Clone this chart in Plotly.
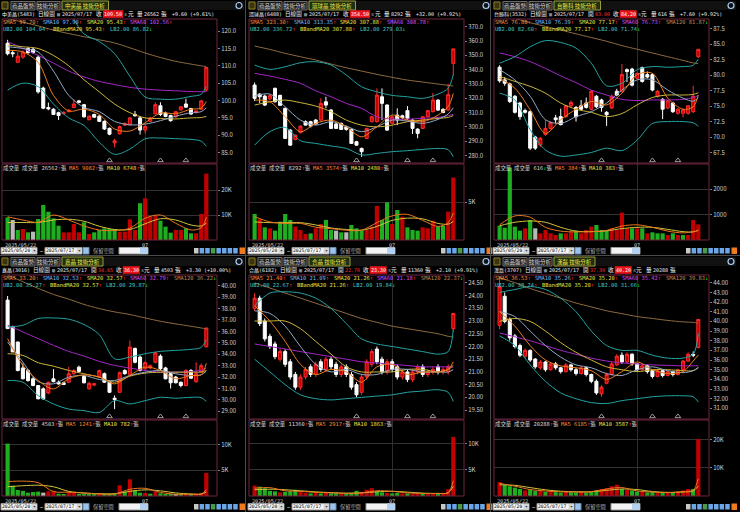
import plotly.graph_objects as go

W, H = 740, 512
FONT = "Noto Sans CJK TC, Noto Sans, DejaVu Sans, sans-serif"
MONO = "DejaVu Sans Mono, Noto Sans CJK TC, monospace"

# ---------------- shared data ----------------
DATES = (["2025/05/%02d" % d for d in (22, 23, 26, 27, 28, 29)]
         + ["2025/06/%02d" % d for d in (2, 3, 4, 5, 6, 9, 10, 11, 12, 13, 16, 17, 18, 19, 20,
                                         23, 24, 25, 26, 27, 30)]
         + ["2025/07/%02d" % d for d in (1, 2, 3, 4, 7, 8, 9, 10, 11, 14, 15, 16, 17)])
KEY = [0, 3, 6, 9, 12, 15, 18, 21, 24, 27, 30, 33, 36, 38, 39]   # days where the average lines were read
MARKS = [20, 30, 35]                                            # small event triangles
JULY = 27
SHOW_DATE = "2025/07/17"
RANGE_FROM, RANGE_TO = "2025/05/20", "2025/07/17"

# ---------------- panel 1 : 中美晶 ----------------
P1_NAME, P1_TAB = "中美晶(5483)", "中美晶"
P1_OPEN_TXT, P1_CLOSE_TXT, P1_VOL_TXT, P1_CHG_TXT = None, "109.50", "26562", "+9.60 (+9.61%)"
P1_SMA_LEG = ["99.70", "97.90", "95.43", "102.56"]
P1_BB_LEG = ["104.04", "95.43", "86.82"]
P1_VOL_LEG = ["26562", "9082", "6748"]
P1_VOL_DIR = "UUU"
P1_PREV = 117.0
P1_OHLC = [(116.5, 117.5, 113.0, 113.5), (113.8, 114.5, 112.5, 113.5), (111.0, 114.0, 110.8, 112.8),
           (112.5, 114.5, 112.0, 114.0), (115.0, 115.4, 113.5, 113.8), (114.8, 115.2, 113.5, 113.8),
           (112.5, 113.0, 102.0, 102.5), (103.6, 104.0, 97.5, 97.8), (98.0, 99.4, 97.2, 97.6),
           (97.5, 97.8, 95.8, 96.0), (96.5, 96.8, 94.4, 95.7), (96.2, 96.9, 96.0, 96.6),
           (96.8, 97.6, 96.6, 97.2), (98.0, 100.4, 97.8, 99.0), (99.9, 100.2, 99.2, 99.5),
           (98.8, 99.0, 95.1, 95.3), (94.5, 95.7, 94.2, 95.5), (96.0, 96.2, 95.0, 95.2),
           (95.5, 95.8, 93.8, 94.0), (94.0, 94.3, 91.5, 91.8), (92.0, 92.2, 90.0, 90.3),
           (87.8, 89.0, 86.5, 88.4), (90.4, 92.8, 90.2, 92.5), (92.9, 93.7, 92.7, 93.4),
           (93.0, 95.3, 92.8, 95.0), (96.0, 97.0, 95.4, 95.6), (95.0, 95.5, 90.2, 91.5),
           (91.5, 93.0, 90.5, 92.5), (94.0, 95.3, 93.8, 95.0), (96.2, 99.5, 96.0, 98.8),
           (98.5, 99.5, 95.5, 96.0), (96.4, 96.8, 95.2, 95.4), (95.7, 95.9, 93.9, 94.2),
           (95.3, 97.0, 95.0, 96.8), (97.3, 98.4, 97.1, 98.2), (99.0, 100.5, 97.9, 98.1),
           (97.7, 97.9, 95.9, 96.1), (96.5, 97.2, 96.3, 97.0), (97.5, 100.2, 97.3, 99.9),
           (103.0, 109.5, 102.6, 109.5)]
P1_VOL = [9070, 8000, 4000, 4400, 3070, 3330, 8400, 14000, 11300, 8670, 5730, 3070, 3070, 6400,
          3070, 7070, 2400, 3070, 4000, 4670, 4400, 4400, 3330, 3330, 8270, 4000, 14700, 16700,
          9330, 9730, 7730, 5330, 2930, 4000, 4000, 4670, 2670, 2670, 10400, 26562]
P1_SMA5 = [114.5, 114, 111, 101.5, 97, 97.5, 96, 91.8, 91.2, 93.6, 96.4, 96.2, 97.5, 97.8, 99.7]
P1_SMA10 = [115.5, 115, 114, 108.5, 101.5, 98, 96.8, 94, 93, 93.2, 94.2, 95.5, 96.5, 96.8, 97.9]
P1_SMA20 = [116, 115.5, 115, 113, 110, 106, 102.5, 99, 96.5, 95, 94.8, 94.7, 95, 95.1, 95.43]
P1_SMA60 = [117, 115, 113, 110.8, 108.5, 106.8, 105.5, 104.6, 103.8, 103.3, 103.0, 102.8, 102.6, 102.55, 102.56]
P1_SMA120 = [123.6, 122.6, 121.5, 120.3, 119.3, 118.4, 117.5, 116.6, 115.2, 113.7, 112.4, 111.3, 110.5, 110.0, 109.8]
P1_UB = [128, 127, 126, 126, 125, 119.2, 117, 113.5, 107, 101, 100.4, 100.4, 101.2, 101.8, 104.04]
P1_LB = [103, 105, 104, 99, 95, 92.8, 88, 84.5, 86, 89, 89.2, 89, 88.8, 88.3, 86.82]
P1_VMA5 = [9300, 8000, 7100, 10000, 8000, 5600, 4000, 3800, 4700, 8700, 10000, 6700, 4000, 4900, 9082]
P1_VMA10 = [7000, 7000, 7000, 8000, 8300, 7500, 5500, 4200, 4200, 6500, 8500, 8000, 6000, 5600, 6748]
P1_YRANGE = [82.0, 123.5]
P1_TICKS = ["85.0", "90.0", "95.0", "100.0", "105.0", "110.0", "115.0", "120.0"]
P1_VRANGE = [0, 30400]
P1_VTICKS = [10000, 20000]
P1_VTICK_TXT = ["10K", "20K"]

# ---------------- panel 2 : 環球晶 ----------------
P2_NAME, P2_TAB = "環球晶(6488)", "環球晶"
P2_OPEN_TXT, P2_CLOSE_TXT, P2_VOL_TXT, P2_CHG_TXT = None, "354.50", "8292", "+32.00 (+9.92%)"
P2_SMA_LEG = ["323.30", "313.35", "307.88", "308.78"]
P2_BB_LEG = ["336.72", "307.88", "279.03"]
P2_VOL_LEG = ["8292", "3574", "2480"]
P2_VOL_DIR = "UUU"
P2_PREV = 325.0
P2_OHLC = [(329.2, 331.0, 318.0, 319.9), (322.9, 323.5, 316.6, 321.0), (321.5, 322.5, 314.5, 315.2),
           (319.5, 322.5, 318.5, 321.8), (326.9, 327.5, 317.0, 317.5), (322.0, 322.5, 314.8, 315.0),
           (312.9, 313.5, 291.5, 291.9), (297.7, 298.5, 286.8, 287.2), (291.2, 294.6, 290.5, 294.2),
           (295.9, 300.9, 295.5, 300.5), (303.6, 304.5, 301.0, 301.2), (303.6, 304.2, 299.5, 300.5),
           (304.7, 305.5, 301.5, 302.0), (304.7, 320.0, 304.2, 316.4), (317.5, 321.0, 313.0, 315.2),
           (311.7, 312.5, 298.5, 298.9), (302.0, 302.8, 298.5, 298.9), (302.4, 303.0, 297.8, 298.2),
           (300.0, 300.8, 297.2, 298.2), (298.2, 298.8, 288.0, 288.4), (289.6, 290.2, 286.8, 287.2),
           (284.9, 285.5, 279.0, 282.6), (291.9, 299.3, 291.5, 298.9), (303.6, 307.5, 303.0, 307.0),
           (303.6, 326.9, 303.0, 322.2), (321.0, 326.9, 304.7, 316.4), (315.2, 315.8, 297.2, 297.7),
           (302.4, 307.5, 302.0, 307.0), (308.2, 312.9, 301.2, 304.7), (307.7, 308.5, 305.2, 306.5),
           (311.3, 314.5, 304.7, 306.0), (304.7, 305.3, 295.0, 298.9), (298.4, 299.0, 292.0, 295.4),
           (298.9, 307.5, 298.4, 307.0), (307.0, 311.8, 306.5, 311.3), (310.6, 323.8, 310.0, 318.7),
           (318.7, 319.3, 311.2, 311.7), (312.2, 313.0, 309.5, 310.0), (311.7, 330.0, 311.2, 322.5),
           (344.4, 354.5, 336.0, 354.5)]
P2_VOL = [3450, 2790, 1680, 1550, 1240, 2430, 3450, 2650, 1770, 1330, 800, 880, 1550, 2120, 2650,
          1330, 1240, 1020, 1020, 1990, 1550, 1240, 1330, 1770, 4510, 2650, 5000, 2120, 3980, 3090,
          1680, 1330, 1240, 1680, 1550, 2560, 1770, 1900, 3760, 8292]
P2_SMA5 = [318.7, 317.5, 307, 296.6, 302.4, 304.7, 300, 293, 300, 308.2, 304.7, 303.6, 308.2, 314.2, 323.3]
P2_SMA10 = [321.5, 322.9, 314, 304.7, 301.2, 303.6, 300.5, 296.6, 300, 304.7, 304, 302.4, 305.2, 309, 313.35]
P2_SMA20 = [315.2, 317.5, 318.7, 316.9, 314.5, 310.6, 304.7, 301.2, 300, 301.2, 303.6, 304.7, 305.9, 306.6, 307.88]
P2_SMA60 = [337.4, 335.5, 333.2, 330.4, 325.2, 321, 316.4, 312.9, 307, 305.4, 305.4, 305.9, 306.6, 307.8, 308.78]
P2_SMA120 = [356.5, 354.1, 351.4, 349, 346.7, 343.9, 341.3, 339, 336.7, 334.6, 332.7, 331.3, 329.9, 329, 328.5]
P2_UB = [343.2, 340.2, 342, 344.8, 345.5, 343.2, 336.2, 328, 324.5, 322, 321, 319.9, 322.9, 327, 336.72]
P2_LB = [287.2, 296.6, 299.6, 290.3, 288.4, 286.6, 284.9, 280.3, 281.4, 282.6, 283.3, 284.2, 284.9, 284, 279.03]
P2_VMA5 = [3100, 2400, 2200, 2200, 1700, 1500, 1300, 1300, 2300, 3200, 3400, 2600, 1800, 2300, 3574]
P2_VMA10 = [2400, 2300, 2300, 2300, 2000, 1600, 1400, 1300, 1800, 2600, 2900, 2800, 2200, 2100, 2480]
P2_YRANGE = [274.7, 375.4]
P2_TICKS = ["280.0", "290.0", "300.0", "310.0", "320.0", "330.0", "340.0", "350.0", "360.0", "370.0"]
P2_VRANGE = [0, 10080]
P2_VTICKS = [5000]
P2_VTICK_TXT = ["5K"]

# ---------------- panel 3 : 台勝科 ----------------
P3_NAME, P3_TAB = "台勝科(3532)", "台勝科"
P3_OPEN_TXT, P3_CLOSE_TXT, P3_VOL_TXT, P3_CHG_TXT = "83.00", "84.20", "616", "+7.60 (+9.92%)"
P3_SMA_LEG = ["76.80", "76.39", "77.17", "76.73", "81.87"]
P3_BB_LEG = ["82.60", "77.17", "71.74"]
P3_VOL_LEG = ["616", "384", "383"]
P3_VOL_DIR = "DUU"
P3_PREV = 81.5
P3_OHLC = [(81.3, 81.6, 78.8, 79.1), (79.25, 79.7, 78.3, 78.7), (78.6, 78.8, 75.5, 75.75),
           (76.6, 76.8, 73.8, 74.0), (75.5, 75.7, 72.8, 73.3), (74.3, 74.6, 73.8, 74.0),
           (74.1, 74.3, 67.9, 68.2), (70.0, 70.2, 67.9, 68.2), (68.7, 70.0, 68.4, 69.8),
           (70.4, 72.8, 70.2, 71.4), (71.4, 72.5, 71.2, 72.35), (73.1, 73.6, 72.2, 72.8),
           (73.3, 74.6, 71.9, 72.0), (73.3, 75.2, 73.1, 75.05), (75.05, 75.9, 74.8, 75.6),
           (74.8, 75.0, 72.5, 73.3), (75.05, 76.0, 74.3, 74.5), (75.5, 76.4, 74.6, 74.8),
           (74.5, 77.6, 74.3, 77.4), (76.6, 76.8, 74.7, 74.9), (76.0, 76.2, 74.1, 74.8),
           (74.0, 74.2, 71.8, 73.6), (74.7, 76.9, 74.5, 76.6), (77.4, 77.8, 76.6, 76.8),
           (77.4, 81.8, 77.2, 80.1), (80.9, 81.1, 78.9, 80.6), (81.0, 81.2, 78.2, 78.4),
           (79.5, 80.5, 79.3, 80.3), (81.25, 81.4, 78.8, 79.0), (80.1, 80.6, 79.5, 79.7),
           (80.1, 80.3, 77.4, 77.6), (76.6, 77.6, 76.4, 77.4), (76.1, 76.3, 72.9, 74.5),
           (74.7, 76.0, 74.5, 75.85), (75.5, 75.7, 73.9, 74.1), (73.85, 74.7, 73.6, 74.5),
           (73.85, 74.6, 73.2, 74.4), (73.85, 75.2, 73.6, 75.05), (74.1, 78.3, 73.9, 76.6),
           (83.0, 84.2, 82.8, 84.2)]
P3_VOL = [565, 487, 2857, 527, 368, 461, 790, 461, 263, 395, 263, 197, 263, 263, 329, 368, 263,
          395, 527, 592, 395, 368, 461, 395, 1080, 461, 461, 461, 461, 263, 303, 263, 263, 197,
          263, 197, 197, 197, 790, 616]
P3_SMA5 = [79.5, 77.9, 74.4, 70.6, 72.8, 74.5, 75.75, 75.2, 77.1, 80.1, 80.3, 76.3, 74.5, 74.9, 76.8]
P3_SMA10 = [80.9, 79.25, 76.6, 72.8, 72.2, 73.3, 74.1, 75.5, 77.6, 79.25, 79.25, 77.6, 76.3, 75.8, 76.39]
P3_SMA20 = [79.8, 79.0, 78.2, 77.1, 75.5, 74.5, 74.0, 73.3, 73.8, 75.2, 76.4, 76.8, 76.8, 76.9, 77.17]
P3_SMA60 = [83.6, 83.0, 82.2, 81.1, 79.9, 78.8, 77.6, 76.8, 76.1, 75.9, 76.0, 76.0, 76.1, 76.4, 76.73]
P3_SMA120 = [89.8, 89.2, 88.5, 87.9, 87.3, 86.7, 86.1, 85.5, 84.8, 84.2, 83.6, 83.0, 82.4, 82.0, 81.87]
P3_UB = [81.95, 83.0, 84.6, 85.6, 85.3, 84.4, 81.95, 78.3, 78.7, 80.9, 81.4, 81.3, 81.4, 81.6, 82.6]
P3_LB = [77.1, 76.0, 71.2, 67.9, 66.9, 67.1, 67.5, 68.2, 67.8, 69.5, 72.2, 72.5, 72.5, 72.3, 71.74]
P3_VMA5 = [600, 950, 900, 500, 350, 320, 330, 380, 550, 600, 500, 350, 280, 329, 384]
P3_VMA10 = [560, 700, 750, 700, 500, 350, 330, 360, 450, 500, 500, 420, 330, 320, 383]
P3_YRANGE = [65.8, 89.1]
P3_TICKS = ["67.5", "70.0", "72.5", "75.0", "77.5", "80.0", "82.5", "85.0", "87.5"]
P3_VRANGE = [0, 3000]
P3_VTICKS = [1000, 2000]
P3_VTICK_TXT = ["1000", "2000"]

# ---------------- panel 4 : 嘉晶 ----------------
P4_NAME, P4_TAB = "嘉晶(3016)", "嘉晶"
P4_OPEN_TXT, P4_CLOSE_TXT, P4_VOL_TXT, P4_CHG_TXT = "34.65", "36.30", "4503", "+3.30 (+10.00%)"
P4_SMA_LEG = ["33.20", "32.53", "32.57", "32.79", "36.22"]
P4_BB_LEG = ["35.27", "32.57", "29.87"]
P4_VOL_LEG = ["4503", "1241", "782"]
P4_VOL_DIR = "UUU"
P4_PREV = 38.5
P4_OHLC = [(38.74, 39.1, 36.2, 36.25), (36.4, 36.5, 34.2, 34.2), (35.07, 35.1, 32.5, 32.58),
           (32.8, 33.2, 31.8, 31.85), (32.58, 32.7, 31.6, 31.7), (31.85, 32.0, 31.2, 31.26),
           (31.26, 31.3, 30.05, 30.1), (30.97, 31.1, 30.0, 30.1), (30.6, 31.6, 30.5, 31.55),
           (31.85, 32.7, 31.55, 31.6), (31.55, 31.7, 31.35, 31.4), (31.5, 31.6, 31.3, 31.35),
           (31.55, 32.9, 31.5, 32.3), (32.3, 32.7, 32.2, 32.58), (32.87, 33.0, 32.4, 32.5),
           (32.05, 32.1, 31.45, 31.5), (30.97, 31.6, 30.9, 31.45), (31.3, 31.5, 31.2, 31.42),
           (32.0, 32.65, 31.95, 32.58), (32.3, 32.4, 31.5, 31.55), (31.55, 31.6, 30.6, 30.67),
           (30.15, 30.4, 29.2, 30.03), (30.67, 32.5, 30.6, 32.38), (32.58, 32.7, 32.2, 32.3),
           (32.2, 35.2, 32.1, 34.63), (34.5, 34.6, 33.2, 33.3), (33.75, 33.9, 32.5, 32.58),
           (32.73, 33.4, 32.6, 33.26), (32.8, 33.1, 32.7, 33.0), (33.3, 34.2, 33.2, 34.13),
           (33.84, 34.0, 32.6, 32.73), (32.8, 32.9, 31.8, 31.85), (32.3, 32.4, 31.0, 31.5),
           (32.0, 32.1, 31.45, 31.5), (31.55, 31.6, 31.1, 31.26), (31.26, 32.7, 31.2, 32.58),
           (32.58, 32.7, 31.85, 31.9), (31.6, 33.3, 31.5, 32.3), (32.43, 33.2, 32.4, 33.0),
           (34.65, 36.3, 34.6, 36.3)]
P4_VOL = [10200, 2000, 1170, 1000, 650, 780, 850, 650, 900, 1000, 450, 330, 850, 650, 330, 330,
          330, 200, 450, 200, 330, 520, 2100, 850, 3250, 1100, 650, 600, 450, 850, 520, 330, 330,
          200, 200, 330, 330, 450, 600, 4503]
P4_SMA5 = [35.37, 33.02, 31.7, 30.97, 31.85, 32.2, 32.0, 31.41, 32.14, 32.87, 32.58, 31.85, 32.14, 32.2, 33.2]
P4_SMA10 = [35.07, 33.31, 31.61, 31.41, 32.0, 32.14, 31.79, 31.7, 32.14, 32.43, 32.58, 32.29, 32.14, 32.2, 32.53]
P4_SMA20 = [34.05, 33.9, 33.26, 32.96, 32.58, 32.29, 32.0, 31.55, 32.08, 32.35, 32.43, 32.43, 32.43, 32.45, 32.57]
P4_SMA60 = [36.54, 35.95, 35.37, 34.78, 34.25, 33.84, 33.37, 33.02, 32.79, 32.58, 32.43, 32.43, 32.49, 32.6, 32.79]
P4_SMA120 = [40.94, 40.35, 39.77, 39.24, 38.83, 38.36, 38.0, 37.71, 37.48, 37.18, 36.89, 36.66, 36.45, 36.3, 36.22]
P4_UB = [36.4, 36.54, 37.13, 37.18, 37.07, 36.6, 35.72, 33.6, 33.75, 34.05, 34.25, 34.34, 34.43, 34.6, 35.27]
P4_LB = [31.7, 31.55, 30.38, 29.65, 29.2, 29.06, 28.9, 29.94, 29.65, 29.94, 30.23, 30.15, 30.23, 30.2, 29.87]
P4_VMA5 = [2800, 2900, 2600, 850, 750, 550, 400, 400, 1300, 1500, 700, 350, 350, 380, 1241]
P4_VMA10 = [1800, 2000, 2100, 1800, 900, 600, 450, 450, 900, 1200, 1000, 600, 400, 380, 782]
P4_YRANGE = [28.33, 40.94]
P4_TICKS = ["29.00", "30.00", "31.00", "32.00", "33.00", "34.00", "35.00", "36.00", "37.00",
            "38.00", "39.00", "40.00"]
P4_VRANGE = [0, 14800]
P4_VTICKS = [5000, 10000]
P4_VTICK_TXT = ["5K", "10K"]

# ---------------- panel 5 : 合晶 ----------------
P5_NAME, P5_TAB = "合晶(6182)", "合晶"
P5_OPEN_TXT, P5_CLOSE_TXT, P5_VOL_TXT, P5_CHG_TXT = "22.70", "23.30", "11360", "+2.10 (+9.91%)"
P5_SMA_LEG = ["21.40", "21.09", "21.26", "21.18", "22.37"]
P5_BB_LEG = ["22.67", "21.26", "19.84"]
P5_VOL_LEG = ["11360", "2917", "1863"]
P5_VOL_DIR = "UUU"
P5_PREV = 23.6
P5_OHLC = [(23.5, 24.1, 23.4, 23.9), (23.9, 24.0, 22.8, 22.9), (23.0, 23.1, 22.2, 22.3),
           (22.4, 22.5, 21.9, 22.0), (22.1, 22.2, 21.5, 21.6), (21.5, 21.9, 21.4, 21.8),
           (21.8, 21.9, 21.2, 21.3), (21.4, 21.5, 20.7, 20.8), (20.9, 21.0, 20.3, 20.4),
           (20.4, 20.9, 20.3, 20.8), (20.8, 21.2, 20.7, 21.1), (21.2, 21.3, 20.8, 20.9),
           (20.9, 21.4, 20.8, 21.3), (21.4, 21.5, 21.0, 21.1), (21.1, 21.6, 21.0, 21.5),
           (21.5, 21.6, 21.1, 21.2), (21.3, 21.4, 20.8, 20.9), (20.9, 21.3, 20.8, 21.2),
           (21.2, 21.3, 20.8, 20.9), (20.9, 21.0, 20.3, 20.4), (20.5, 20.6, 20.0, 20.1),
           (20.2, 20.9, 20.1, 20.8), (20.8, 21.5, 20.7, 21.4), (21.3, 21.9, 21.2, 21.8),
           (21.9, 22.0, 21.3, 21.4), (21.5, 21.6, 20.9, 21.0), (21.0, 21.5, 20.9, 21.4),
           (21.4, 21.5, 21.0, 21.1), (21.2, 21.3, 20.7, 20.8), (20.8, 21.1, 20.7, 21.0),
           (21.0, 21.1, 20.6, 20.7), (20.7, 21.1, 20.6, 21.0), (21.0, 21.3, 20.9, 21.2),
           (21.2, 21.3, 20.8, 20.9), (20.9, 21.1, 20.8, 21.0), (21.0, 21.2, 20.9, 21.1),
           (21.2, 21.3, 20.9, 21.0), (21.0, 21.2, 20.9, 21.1), (21.0, 21.3, 20.9, 21.2),
           (22.7, 23.3, 22.6, 23.3)]
P5_VOL = [2000, 1800, 1500, 1000, 900, 700, 800, 900, 1200, 800, 600, 500, 600, 500, 700, 500,
          500, 400, 500, 600, 1000, 800, 1200, 1500, 900, 700, 600, 500, 600, 500, 500, 400, 500,
          400, 400, 500, 500, 600, 1300, 11360]
P5_SMA5 = [23.6, 23.0, 22.2, 21.3, 20.9, 21.1, 21.0, 20.6, 21.2, 21.3, 20.9, 21.0, 21.0, 21.1, 21.40]
P5_SMA10 = [23.4, 23.3, 22.8, 22.0, 21.3, 21.0, 21.1, 20.9, 20.9, 21.1, 21.1, 21.0, 21.0, 21.0, 21.09]
P5_SMA20 = [23.0, 23.0, 23.0, 22.7, 22.2, 21.7, 21.2, 21.0, 21.0, 21.0, 21.1, 21.1, 21.0, 21.1, 21.26]
P5_SMA60 = [22.1, 22.0, 21.9, 21.8, 21.7, 21.6, 21.5, 21.4, 21.35, 21.3, 21.25, 21.2, 21.2, 21.2, 21.18]
P5_SMA120 = [24.5, 24.3, 24.1, 23.9, 23.7, 23.5, 23.3, 23.1, 22.95, 22.8, 22.7, 22.6, 22.5, 22.4, 22.37]
P5_UB = [23.6, 24.1, 24.15, 24.1, 23.9, 23.5, 22.9, 22.3, 22.1, 22.0, 21.9, 21.8, 21.7, 21.8, 22.67]
P5_LB = [21.5, 21.0, 20.5, 20.1, 19.95, 19.9, 19.95, 20.0, 20.05, 20.1, 20.2, 20.25, 20.3, 20.2, 19.84]
P5_VMA5 = [1500, 1600, 1000, 900, 700, 600, 500, 600, 1000, 900, 600, 500, 500, 660, 2917]
P5_VMA10 = [1200, 1300, 1200, 1000, 800, 650, 550, 600, 800, 900, 750, 550, 500, 600, 1863]
P5_YRANGE = [19.15, 24.81]
P5_TICKS = ["19.50", "20.00", "20.50", "21.00", "21.50", "22.00", "22.50", "23.00", "23.50",
            "24.00", "24.50"]
P5_VRANGE = [0, 14600]
P5_VTICKS = [5000, 10000]
P5_VTICK_TXT = ["5K", "10K"]

# ---------------- panel 6 : 漢磊 ----------------
P6_NAME, P6_TAB = "漢磊(3707)", "漢磊"
P6_OPEN_TXT, P6_CLOSE_TXT, P6_VOL_TXT, P6_CHG_TXT = "37.30", "40.20", "20288", None
P6_SMA_LEG = ["36.53", "35.26", "35.20", "35.42", "39.83"]
P6_BB_LEG = ["38.74", "35.20", "31.66"]
P6_VOL_LEG = ["20288", "6185", "3587"]
P6_VOL_DIR = "UUU"
P6_PREV = 40.5
P6_OHLC = [(39.6, 44.6, 39.2, 43.6), (42.6, 43.0, 39.8, 40.0), (40.2, 40.4, 38.0, 38.3),
           (38.5, 38.7, 37.2, 37.4), (37.5, 37.7, 36.3, 36.5), (36.4, 37.2, 36.2, 37.0),
           (37.0, 37.1, 35.8, 36.0), (36.1, 36.2, 35.1, 35.3), (35.2, 36.0, 35.0, 35.8),
           (35.8, 35.9, 34.8, 35.0), (35.0, 35.8, 34.9, 35.6), (35.6, 35.8, 35.0, 35.2),
           (35.2, 35.3, 34.6, 34.8), (34.8, 35.7, 34.7, 35.5), (35.5, 35.6, 34.8, 35.0),
           (35.0, 35.2, 34.4, 34.6), (34.6, 35.4, 34.5, 35.2), (35.2, 35.3, 34.3, 34.5),
           (34.5, 34.6, 33.6, 33.8), (33.8, 34.0, 32.4, 32.6), (32.5, 33.4, 32.2, 33.2),
           (33.6, 34.7, 33.5, 34.5), (34.5, 35.8, 34.4, 35.6), (35.5, 36.6, 35.4, 36.4),
           (36.5, 36.8, 35.6, 35.8), (35.8, 36.8, 35.7, 36.6), (36.6, 36.7, 35.4, 35.6),
           (35.6, 35.7, 34.8, 35.0), (35.0, 35.6, 34.9, 35.4), (35.4, 35.5, 34.6, 34.8),
           (34.9, 35.0, 34.1, 34.3), (34.3, 35.1, 34.2, 34.9), (34.9, 35.0, 34.2, 34.4),
           (34.4, 34.9, 34.3, 34.8), (34.8, 34.9, 34.3, 34.5), (34.5, 35.1, 34.4, 35.0),
           (35.0, 36.0, 34.9, 35.9), (35.9, 36.8, 35.8, 36.6), (36.6, 36.9, 36.3, 36.5),
           (37.3, 40.2, 37.2, 40.2)]
P6_VOL = [5000, 4000, 3500, 3000, 2500, 2000, 2200, 1800, 2000, 1500, 1800, 1400, 1200, 1800,
          1300, 1200, 1500, 1200, 1400, 2000, 2500, 2800, 3500, 4000, 2500, 2200, 2000, 1600,
          1500, 1300, 1400, 1200, 1300, 1200, 1100, 1500, 2000, 2500, 2500, 20288]
P6_SMA5 = [41.0, 39.5, 37.5, 36.0, 35.4, 35.2, 34.9, 34.0, 34.8, 35.8, 35.0, 34.6, 34.8, 35.9, 36.53]
P6_SMA10 = [41.0, 40.5, 39.0, 37.5, 36.3, 35.5, 35.2, 34.6, 34.4, 35.0, 35.3, 34.9, 34.7, 34.9, 35.26]
P6_SMA20 = [40.0, 40.3, 40.0, 39.0, 37.8, 36.8, 36.0, 35.3, 35.0, 34.8, 35.0, 35.0, 34.9, 34.9, 35.20]
P6_SMA60 = [38.8, 38.4, 38.0, 37.5, 37.0, 36.6, 36.2, 35.9, 35.7, 35.6, 35.5, 35.45, 35.4, 35.4, 35.42]
P6_SMA120 = [44.5, 44.0, 43.4, 42.9, 42.4, 41.9, 41.5, 41.1, 40.8, 40.5, 40.3, 40.1, 39.95, 39.9, 39.83]
P6_UB = [43.0, 43.3, 43.6, 43.3, 42.4, 41.0, 39.0, 37.5, 37.0, 37.0, 36.5, 36.2, 36.2, 36.6, 38.74]
P6_LB = [38.5, 37.5, 35.5, 33.8, 32.6, 32.0, 31.6, 31.5, 31.8, 32.0, 32.2, 32.3, 32.3, 32.2, 31.66]
P6_VMA5 = [4500, 3500, 2300, 1800, 1500, 1400, 1500, 2500, 3000, 1800, 1400, 1200, 1600, 2100, 6185]
P6_VMA10 = [4000, 3800, 3000, 2200, 1700, 1500, 1500, 2000, 2500, 2300, 1600, 1300, 1400, 1800, 3587]
P6_YRANGE = [29.9, 44.8]
P6_TICKS = ["31.00", "32.00", "33.00", "34.00", "35.00", "36.00", "37.00", "38.00", "39.00",
            "40.00", "41.00", "42.00", "43.00", "44.00"]
P6_VRANGE = [0, 27100]
P6_VTICKS = [10000, 20000]
P6_VTICK_TXT = ["10K", "20K"]


def pack(n):
    g = globals()
    keys = ["NAME", "TAB", "OPEN_TXT", "CLOSE_TXT", "VOL_TXT", "CHG_TXT", "SMA_LEG", "BB_LEG",
            "VOL_LEG", "VOL_DIR", "PREV", "OHLC", "VOL", "SMA5", "SMA10", "SMA20", "SMA60",
            "SMA120", "UB", "LB", "VMA5", "VMA10", "YRANGE", "TICKS", "VRANGE", "VTICKS", "VTICK_TXT"]
    return {k: g["P%d_%s" % (n, k)] for k in keys}


PANELS = [pack(i) for i in range(1, 7)]

# ---------------- styling ----------------
COLS = [0, 247, 492]
ROWS = [0, 256]
C_UP_FILL, C_UP_LINE = "#c40000", "#ff2b2b"
C_DN = "#ffffff"
C_VUP, C_VDN, C_VFLAT = "#c20000", "#1fae1f", "#b8b8b8"
C_SMA5, C_SMA10, C_SMA20 = "#ee7d1a", "#92a9c4", "#cdb63a"
C_SMA60, C_SMA120, C_BB = "#a626c8", "#8e6c3e", "#23a3a3"
L_SMA5, L_SMA10, L_SMA20 = "#ff9040", "#7cb8f0", "#e8e040"
L_SMA60, L_SMA120, L_BB = "#d050ff", "#c08850", "#40c8c8"
FRAME = "#6e2640"
WHITE = "#f2f2f2"
UPA = '<span style="color:#ff2a2a">↑</span>'
DNA = '<span style="color:#22e022">↓</span>'

shapes, annos = [], []
fig = go.Figure()


def fx(x):
    return x / W


def fy(y):
    return 1 - y / H


def tw(s, fs):
    """width of a string in the monospace font (CJK glyphs are one em wide)"""
    return sum(fs if ord(ch) >= 0x2E80 else fs * 0.602 for ch in s)


def text(x, y, s, color=WHITE, size=6, anchor="left", family=MONO):
    annos.append(dict(x=fx(x), y=fy(y), xref="paper", yref="paper", text=s, showarrow=False,
                      xanchor=anchor, yanchor="middle", borderpad=0, borderwidth=0,
                      font=dict(family=family, size=size, color=color)))


def rect(x0, y0, x1, y1, line=None, fill=None, width=1, kind="rect"):
    shapes.append(dict(type=kind, xref="paper", yref="paper", x0=fx(x0), x1=fx(x1),
                       y0=fy(y1), y1=fy(y0), layer="above",
                       line=dict(color=line if line else "rgba(0,0,0,0)", width=width if line else 0),
                       fillcolor=fill if fill else "rgba(0,0,0,0)"))


def names(n):
    sfx = "" if n == 1 else str(n)
    return "xaxis" + sfx, "yaxis" + sfx, "x" + sfx, "y" + sfx


def vol_colors(closes, prev):
    out, last = [], prev
    for c in closes:
        out.append(C_VUP if c > last + 1e-9 else (C_VDN if c < last - 1e-9 else C_VFLAT))
        last = c
    return out


layout_axes = {}
KX = [DATES[i] for i in KEY]

for k, p in enumerate(PANELS):
    col, row = k % 3, k // 3
    ox, oy = COLS[col], ROWS[row]
    xl, xr = ox + 2, ox + 217
    xa_p, ya_p, xs_p, ys_p = names(2 * k + 1)
    xa_v, ya_v, xs_v, ys_v = names(2 * k + 2)

    common_x = dict(domain=[fx(xl), fx(xr)], type="category", categoryorder="array",
                    categoryarray=DATES, range=[-1.1, 41.1], showticklabels=False, ticks="",
                    showgrid=True, gridcolor="#2e2e2e", gridwidth=1, tickvals=[DATES[JULY]],
                    zeroline=False, showline=False, fixedrange=True,
                    rangeslider=dict(visible=False))
    layout_axes[xa_p] = dict(common_x, anchor=ys_p)
    layout_axes[xa_v] = dict(common_x, anchor=ys_v)
    tick_vals = [float(t) for t in p["TICKS"]]
    layout_axes[ya_p] = dict(domain=[fy(oy + 163), fy(oy + 19)], range=p["YRANGE"], side="right",
                             anchor=xs_p, tickvals=tick_vals, ticktext=p["TICKS"],
                             tickfont=dict(family=FONT, size=6, color="#d0d0d0"), ticks="outside",
                             ticklen=2, tickcolor="#808080", showgrid=False, zeroline=False,
                             showline=False, fixedrange=True)
    layout_axes[ya_v] = dict(domain=[fy(oy + 240), fy(oy + 164)], range=p["VRANGE"], side="right",
                             anchor=xs_v, tickvals=p["VTICKS"], ticktext=p["VTICK_TXT"],
                             tickfont=dict(family=FONT, size=6, color="#d0d0d0"), ticks="outside",
                             ticklen=2, tickcolor="#808080", showgrid=True, gridcolor="#333333",
                             zeroline=False, showline=False, fixedrange=True)

    o = [c[0] for c in p["OHLC"]]
    h = [c[1] for c in p["OHLC"]]
    lo = [c[2] for c in p["OHLC"]]
    cl = [c[3] for c in p["OHLC"]]

    fig.add_trace(go.Candlestick(
        x=DATES, open=o, high=h, low=lo, close=cl, xaxis=xs_p, yaxis=ys_p, whiskerwidth=0,
        increasing=dict(line=dict(color=C_UP_LINE, width=1), fillcolor=C_UP_FILL),
        decreasing=dict(line=dict(color=C_DN, width=1), fillcolor=C_DN),
        showlegend=False, hoverinfo="skip"))
    for series, colr in ((p["SMA120"], C_SMA120), (p["SMA60"], C_SMA60), (p["UB"], C_BB),
                         (p["LB"], C_BB), (p["SMA20"], C_SMA20), (p["SMA10"], C_SMA10),
                         (p["SMA5"], C_SMA5)):
        fig.add_trace(go.Scatter(x=KX, y=series, mode="lines", xaxis=xs_p, yaxis=ys_p,
                                 line=dict(color=colr, width=1, shape="spline", smoothing=0.9),
                                 showlegend=False, hoverinfo="skip"))
    y0, y1 = p["YRANGE"]
    fig.add_trace(go.Scatter(x=[DATES[i] for i in MARKS], y=[y0 + 0.018 * (y1 - y0)] * len(MARKS),
                             mode="markers", xaxis=xs_p, yaxis=ys_p, showlegend=False, hoverinfo="skip",
                             marker=dict(symbol="triangle-up-open", size=5, color="#9a9a9a",
                                         line=dict(width=1))))

    fig.add_trace(go.Bar(x=DATES, y=p["VOL"], xaxis=xs_v, yaxis=ys_v, showlegend=False,
                         hoverinfo="skip", marker=dict(color=vol_colors(cl, p["PREV"]), line=dict(width=0))))
    for series, colr in ((p["VMA10"], "#d4c43c"), (p["VMA5"], "#e8781e")):
        fig.add_trace(go.Scatter(x=KX, y=series, mode="lines", xaxis=xs_v, yaxis=ys_v,
                                 line=dict(color=colr, width=1, shape="spline", smoothing=0.9),
                                 showlegend=False, hoverinfo="skip"))

    # frames
    rect(xl, oy + 19, xr, oy + 163, line=FRAME)
    rect(xl, oy + 164, xr, oy + 240, line=FRAME)

    # tab bar
    rect(ox + 1, oy + 1, ox + 244, oy + 10, fill="#111111")
    rect(ox + 2, oy + 2, ox + 8, oy + 9, fill="#3a3410", line="#8c7a20")
    rect(ox + 11, oy + 1.5, ox + 35, oy + 10, fill="#1a1a1a", line="#6a6a6a")
    text(ox + 23, oy + 6, "商品盤勢", "#d8d8d8", 5.5, "center", FONT)
    rect(ox + 37, oy + 1.5, ox + 60, oy + 10, fill="#1a1a1a", line="#6a6a6a")
    text(ox + 48.5, oy + 6, "技術分析", "#d8d8d8", 5.5, "center", FONT)
    tab_txt = p["TAB"] + " 技術分析"
    tab_w = len(p["TAB"]) * 5.5 + 2 + 22 + 6
    rect(ox + 62, oy + 1, ox + 62 + tab_w, oy + 10, fill="#1f3012", line="#9c9c3c")
    text(ox + 62 + tab_w / 2, oy + 6, tab_txt, "#f4e84a", 5.5, "center", FONT)
    rect(ox + 236, oy + 2.5, ox + 242, oy + 8.5, line="#a8d0f8", width=1.2, kind="circle")

    # header line: CJK words in the sans font, numbers in the monospace font
    nfs, cfs = 5.0, 5.6
    yh = oy + 14
    x = ox + 2
    segs = [(p["NAME"], WHITE, None, 3, nfs), ("日線圖", WHITE, None, 2, cfs),
            ("▦", "#9aa6bc", None, 2, nfs), (SHOW_DATE, WHITE, None, 4, nfs)]
    if p["OPEN_TXT"]:
        segs += [("開", WHITE, None, 1.5, cfs), (p["OPEN_TXT"], "#ff3030", None, 2.5, nfs)]
    segs += [("收", WHITE, None, 2.5, cfs), (p["CLOSE_TXT"], "#ffffff", "#e8141c", 2, nfs),
             ("s", "#c8c8c8", None, 0.5, nfs), ("元", WHITE, None, 4, cfs),
             ("量", WHITE, None, 1.5, cfs), (p["VOL_TXT"], WHITE, None, 1.5, nfs),
             ("張", WHITE, None, 6, cfs)]
    if p["CHG_TXT"]:
        segs.append((p["CHG_TXT"], WHITE, None, 0, nfs))
    for s, c, bg, gap, f in segs:
        w = tw(s, f)
        if bg:
            rect(x - 1, yh - 3.8, x + w + 1, yh + 3.8, fill=bg)
        text(x, yh, s, c, f, "left", MONO)
        x += w + gap

    # indicator legend rows
    lfs = 5.4
    row1 = [("SMA5", L_SMA5), ("SMA10", L_SMA10), ("SMA20", L_SMA20), ("SMA60", L_SMA60),
            ("SMA120", L_SMA120)]
    x = xl + 1
    for i, val in enumerate(p["SMA_LEG"]):
        lab, colr = row1[i]
        s = "%s %s" % (lab, val)
        text(x, oy + 22, s + (DNA if lab == "SMA120" else UPA), colr, lfs)
        x += tw(s + "↑", lfs) + 4.5
    row2 = [("UB2.00", L_BB, UPA), ("BBandMA20", L_SMA20, UPA), ("LB2.00", L_BB, DNA)]
    x = xl + 1
    for (lab, colr, arr), val in zip(row2, p["BB_LEG"]):
        s = "%s %s" % (lab, val)
        text(x, oy + 28.5, s + arr, colr, lfs)
        x += tw(s + "↑", lfs) + 4.5

    # volume legend
    text(xl + 1, oy + 168, "成交量", "#d8d8d8", 5.4, "left", FONT)
    x = xl + 20
    vlabs = [("成交量", "#d8d8d8"), ("MA5", "#ff8a30"), ("MA10", "#e8e040")]
    for (lab, colr), val, d in zip(vlabs, p["VOL_LEG"], p["VOL_DIR"]):
        s = "%s %s" % (lab, val)
        text(x, oy + 168, s + (UPA if d == "U" else DNA) + '<span style="color:#e0e0e0">張</span>',
             colr, lfs)
        x += tw(s + "↑張", lfs) + 3

    # date labels under the volume area
    def xpos(i):
        return xl + (i + 1.1) / 42.2 * (xr - xl)
    text(xl + 3, oy + 245, DATES[0], "#d8d8d8", 5.2)
    text(xpos(JULY), oy + 245, DATES[JULY][5:7], "#d8d8d8", 5.2, "center")

    # bottom tool bar
    yb0, yb1, ym = oy + 247.5, oy + 254, oy + 250.8
    rect(ox + 1, yb0, ox + 37, yb1, fill="#f4f4f4", line="#9a9a9a")
    rect(ox + 31.5, yb0 + 0.5, ox + 37, yb1 - 0.5, fill="#d4d4d4")
    text(ox + 1.5, ym, RANGE_FROM, "#101010", 4.7)
    text(ox + 34.2, ym, "▾", "#202020", 4.7, "center")
    text(ox + 41, ym, "~", WHITE, 5.2, "center")
    rect(ox + 45, yb0, ox + 82, yb1, fill="#f4f4f4", line="#9a9a9a")
    rect(ox + 76.5, yb0 + 0.5, ox + 82, yb1 - 0.5, fill="#d4d4d4")
    text(ox + 45.5, ym, RANGE_TO, "#101010", 4.7)
    text(ox + 79.2, ym, "▾", "#202020", 4.7, "center")
    rect(ox + 83, yb0, ox + 89, yb1, fill="#9cc2ec", line="#6a8ab0")
    text(ox + 93, ym, "保留空間", "#b4b4b4", 5.2, "left", FONT)
    rect(ox + 119, yb0, ox + 148, yb1, fill="#f4f4f4", line="#9a9a9a")
    rect(ox + 140, yb0, ox + 148, yb1, fill="#b4d0f0")
    for j, colr in enumerate(["#c8c8c8", "#6aa6e8", "#6aa6e8", "#4a9a4a", "#6aa6e8", "#6aa6e8",
                              "#6aa6e8", "#6aa6e8"]):
        rect(ox + 194 + j * 5.6, yb0 + 0.5, ox + 198.5 + j * 5.6, yb1 - 0.5, fill=colr)
    rect(ox + 239.5, yb0, ox + 245, yb1, fill="#f07a20")

# panel separators
for xs in (245.5, 490.5):
    shapes.append(dict(type="line", xref="paper", yref="paper", x0=fx(xs), x1=fx(xs), y0=0, y1=1,
                       line=dict(color="#4a4a4a", width=1)))
shapes.append(dict(type="line", xref="paper", yref="paper", x0=0, x1=1, y0=fy(255.5), y1=fy(255.5),
                   line=dict(color="#4a4a4a", width=1)))

fig.update_layout(width=W, height=H, margin=dict(l=0, r=0, t=0, b=0), paper_bgcolor="#000000",
                  plot_bgcolor="#000000", showlegend=False, bargap=0.18, boxgap=0.15,
                  hovermode=False, shapes=shapes, annotations=annos, **layout_axes)
fig.write_html("out.html", config={"displayModeBar": False},
               post_script="document.body.style.margin='0px';document.body.style.background='#000';"
                           "document.body.style.overflow='hidden';")
